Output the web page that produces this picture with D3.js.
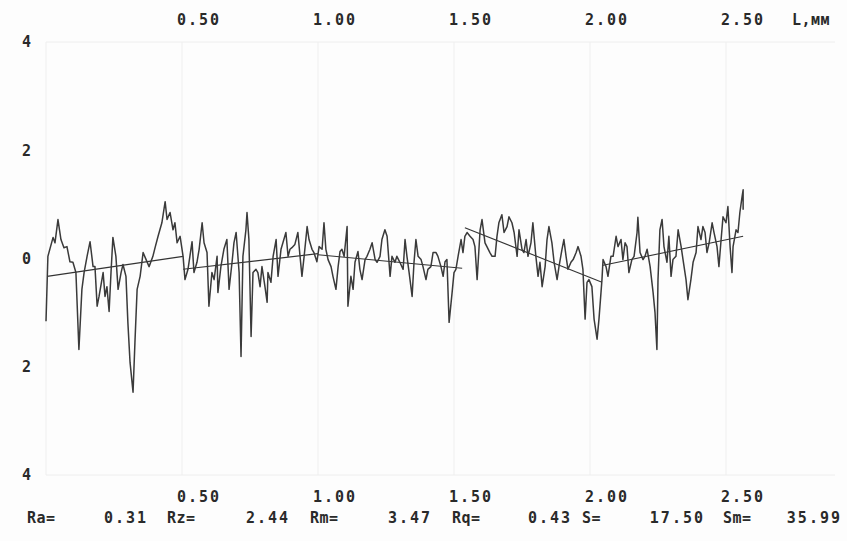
<!DOCTYPE html>
<html><head><meta charset="utf-8">
<script src="https://cdn.jsdelivr.net/npm/d3@7"></script>
<style>
html,body{margin:0;padding:0;background:#fdfdfd;}
svg{display:block;}
text{font-family:"DejaVu Sans Mono","Liberation Mono",monospace;font-weight:bold;fill:#2a2a2a;font-size:15px;letter-spacing:2px;}
</style></head>
<body>
<svg id="c" width="847" height="541"></svg>
<script>
// x tick labels (mm) and y tick values (µm)
const xTicks = [0.5, 1.0, 1.5, 2.0, 2.5];
const xTickLabels = ["0.50", "1.00", "1.50", "2.00", "2.50"];
const yTicks = [4, 2, 0, -2, -4];
const yTickLabels = ["4", "2", "0", "2", "4"];
const axisUnit = "L,мм";

// profile: [length mm, height µm]
const profile = [
[0.000,-1.16],[0.007,0.04],[0.026,0.39],[0.033,0.29],[0.044,0.72],[0.055,0.35],[0.066,0.20],[0.077,0.22],
[0.088,-0.06],[0.099,-0.07],[0.110,-0.26],[0.121,-1.68],[0.132,-0.57],[0.140,-0.26],[0.151,0.04],[0.162,0.31],
[0.173,-0.15],[0.180,-0.15],[0.188,-0.88],[0.195,-0.70],[0.210,-0.26],[0.217,-0.70],[0.224,-0.52],[0.232,-0.98],
[0.239,-0.26],[0.246,0.39],[0.257,0.04],[0.265,-0.57],[0.276,-0.26],[0.283,-0.11],[0.294,-0.33],[0.301,-1.18],
[0.309,-1.92],[0.320,-2.47],[0.327,-1.55],[0.335,-0.57],[0.346,-0.33],[0.357,0.11],[0.368,-0.02],[0.379,-0.15],
[0.393,0.04],[0.401,0.20],[0.412,0.41],[0.426,0.66],[0.438,1.05],[0.445,0.72],[0.456,0.85],[0.467,0.53],
[0.474,0.66],[0.482,0.29],[0.493,0.41],[0.504,0.04],[0.511,-0.39],[0.522,-0.20],[0.529,0.04],[0.537,0.31],
[0.544,-0.26],[0.555,-0.07],[0.563,0.17],[0.574,0.66],[0.581,0.29],[0.592,0.11],[0.599,-0.88],[0.610,-0.26],
[0.618,-0.39],[0.629,0.04],[0.632,-0.63],[0.643,-0.15],[0.654,0.17],[0.665,0.35],[0.673,-0.57],[0.684,-0.07],
[0.691,0.29],[0.699,0.48],[0.710,-0.26],[0.717,-1.81],[0.724,0.04],[0.735,0.53],[0.739,0.85],[0.746,0.35],
[0.754,-1.44],[0.761,-0.26],[0.772,-0.20],[0.779,-0.26],[0.787,-0.52],[0.794,-0.15],[0.805,-0.52],[0.813,-0.81],
[0.816,-0.26],[0.827,-0.44],[0.835,0.04],[0.846,0.35],[0.853,-0.33],[0.864,0.17],[0.871,0.29],[0.882,0.48],
[0.890,0.04],[0.897,0.17],[0.904,0.20],[0.915,0.26],[0.926,0.48],[0.934,0.04],[0.941,-0.33],[0.949,0.04],
[0.960,0.59],[0.967,0.35],[0.978,0.17],[0.985,0.11],[0.996,-0.06],[1.004,0.22],[1.015,0.17],[1.022,0.66],
[1.029,0.17],[1.037,-0.02],[1.048,-0.15],[1.055,-0.33],[1.066,-0.57],[1.074,-0.15],[1.081,0.13],[1.088,0.17],
[1.096,0.04],[1.107,0.59],[1.110,-0.88],[1.121,-0.33],[1.129,-0.57],[1.136,-0.07],[1.147,0.13],[1.154,-0.20],
[1.162,-0.39],[1.173,-0.02],[1.180,0.04],[1.191,0.17],[1.199,0.29],[1.210,-0.02],[1.217,-0.07],[1.228,0.04],
[1.235,0.35],[1.246,0.53],[1.254,0.41],[1.265,-0.33],[1.272,0.04],[1.283,-0.07],[1.290,0.04],[1.301,-0.07],
[1.313,-0.20],[1.320,0.35],[1.327,0.04],[1.335,-0.26],[1.346,-0.70],[1.353,-0.07],[1.360,0.35],[1.368,0.04],
[1.379,-0.02],[1.386,-0.15],[1.397,-0.39],[1.404,-0.20],[1.415,-0.15],[1.423,0.11],[1.434,0.11],[1.441,0.04],
[1.452,-0.15],[1.460,-0.33],[1.467,-0.06],[1.474,-0.02],[1.482,-1.18],[1.493,-0.63],[1.500,-0.26],[1.507,-0.20],
[1.515,0.04],[1.526,0.35],[1.533,0.11],[1.540,0.41],[1.548,0.48],[1.559,0.41],[1.570,0.35],[1.577,0.22],
[1.585,-0.39],[1.596,0.53],[1.603,0.72],[1.614,0.29],[1.621,0.22],[1.632,0.11],[1.640,0.04],[1.651,0.04],
[1.658,0.41],[1.665,0.66],[1.676,0.81],[1.684,0.48],[1.695,0.59],[1.702,0.77],[1.713,0.66],[1.721,0.48],
[1.732,0.04],[1.739,0.53],[1.750,0.17],[1.757,0.11],[1.765,0.35],[1.772,0.04],[1.783,0.29],[1.790,0.66],
[1.801,0.04],[1.809,-0.33],[1.816,-0.07],[1.824,-0.52],[1.835,-0.15],[1.842,0.35],[1.849,0.59],[1.860,0.29],
[1.868,-0.07],[1.879,-0.39],[1.886,-0.15],[1.897,0.17],[1.904,0.35],[1.912,0.04],[1.919,-0.20],[1.930,-0.07],
[1.938,-0.02],[1.949,0.11],[1.956,0.22],[1.967,0.04],[1.974,-0.20],[1.982,-1.12],[1.989,-0.44],[1.996,-0.39],
[2.007,-0.52],[2.015,-1.12],[2.026,-1.49],[2.033,-1.12],[2.044,-0.39],[2.048,-0.02],[2.059,-0.15],[2.066,-0.33],
[2.077,0.04],[2.085,0.04],[2.096,0.41],[2.103,0.22],[2.114,0.35],[2.121,-0.02],[2.129,0.29],[2.136,0.22],
[2.143,-0.26],[2.154,-0.02],[2.162,0.04],[2.173,0.48],[2.176,0.76],[2.184,0.11],[2.195,-0.02],[2.202,0.04],
[2.210,0.17],[2.221,-0.15],[2.232,-0.63],[2.239,-1.00],[2.246,-1.68],[2.250,-0.39],[2.257,0.53],[2.265,0.72],
[2.272,0.22],[2.283,-0.07],[2.290,0.41],[2.298,-0.33],[2.305,-0.02],[2.316,0.04],[2.324,0.53],[2.335,0.22],
[2.342,-0.02],[2.353,-0.39],[2.360,-0.76],[2.371,-0.39],[2.379,-0.07],[2.390,0.11],[2.397,0.59],[2.408,0.35],
[2.415,0.59],[2.423,0.48],[2.430,0.11],[2.438,0.29],[2.449,0.66],[2.456,0.48],[2.467,0.22],[2.474,-0.15],
[2.482,0.35],[2.489,0.77],[2.500,0.66],[2.507,0.96],[2.515,0.22],[2.522,-0.26],[2.526,0.22],[2.537,0.53],
[2.544,0.48],[2.551,0.85],[2.559,1.14],[2.563,1.27],[2.563,0.90]
];

// mean lines per sampling length
const trendX0 = [0.004, 0.504, 1.000, 1.540, 2.044];
const trendX1 = [0.504, 1.000, 1.530, 2.044, 2.563];
const trendY0 = [-0.33, -0.20, 0.07, 0.57, -0.13];
const trendY1 = [0.04, 0.09, -0.18, -0.44, 0.41];

// parameters row
const statNames = ["Ra=", "Rz=", "Rm=", "Rq=", "S=", "Sm="];
const statValues = ["0.31", "2.44", "3.47", "0.43", "17.50", "35.99"];

const svg = d3.select("#c");
const x = d3.scaleLinear().domain([0, 2.5]).range([46, 726]);
const y = d3.scaleLinear().domain([-4, 4]).range([475, 42]);

// faint grid
const g = svg.append("g");
g.selectAll("line.v").data([0, 0.5, 1.0, 1.5, 2.0, 2.5]).join("line")
  .attr("x1", d => x(d)).attr("x2", d => x(d)).attr("y1", y(4)).attr("y2", y(-4))
  .attr("stroke", "#efefef").attr("stroke-width", 1);
g.selectAll("line.h").data([4, -4]).join("line")
  .attr("x1", x(0)).attr("x2", 835).attr("y1", d => y(d)).attr("y2", d => y(d))
  .attr("stroke", "#eeeeee").attr("stroke-width", 1);

// top axis labels
svg.append("g").selectAll("text").data(xTicks).join("text")
  .attr("x", d => x(d) - 5).attr("y", 25).text((d, i) => xTickLabels[i]);
svg.append("text").attr("x", 792).attr("y", 25).style("letter-spacing", "0.5px").text(axisUnit);
// bottom axis labels
svg.append("g").selectAll("text").data(xTicks).join("text")
  .attr("x", d => x(d) - 5).attr("y", 502).text((d, i) => xTickLabels[i]);
// y labels
svg.append("g").selectAll("text").data(yTicks).join("text")
  .attr("x", 22).attr("y", d => y(d)).attr("dy", "0.36em").text((d, i) => yTickLabels[i]);

// mean lines
svg.append("g").selectAll("line").data(trendX0).join("line")
  .attr("x1", (d, i) => x(d)).attr("x2", (d, i) => x(trendX1[i]))
  .attr("y1", (d, i) => y(trendY0[i])).attr("y2", (d, i) => y(trendY1[i]))
  .attr("stroke", "#333").attr("stroke-width", 1.1);

// profile
const line = d3.line().x(d => x(d[0])).y(d => y(d[1]));
svg.append("path").datum(profile).attr("d", line)
  .attr("fill", "none").attr("stroke", "#3a3a3a").attr("stroke-width", 1.5)
  .attr("stroke-linejoin", "round");

// stats row
const nameX = [27, 167, 310, 452, 582, 723];
const valEnd = [148, 290, 432, 572, 705, 842];
const st = svg.append("g");
st.selectAll("text.n").data(statNames).join("text")
  .attr("x", (d, i) => nameX[i]).attr("y", 523).style("letter-spacing", "0.5px").text(d => d);
st.selectAll("text.v").data(statValues).join("text")
  .attr("x", (d, i) => valEnd[i]).attr("y", 523).attr("text-anchor", "end").text(d => d);
</script>
</body></html>
